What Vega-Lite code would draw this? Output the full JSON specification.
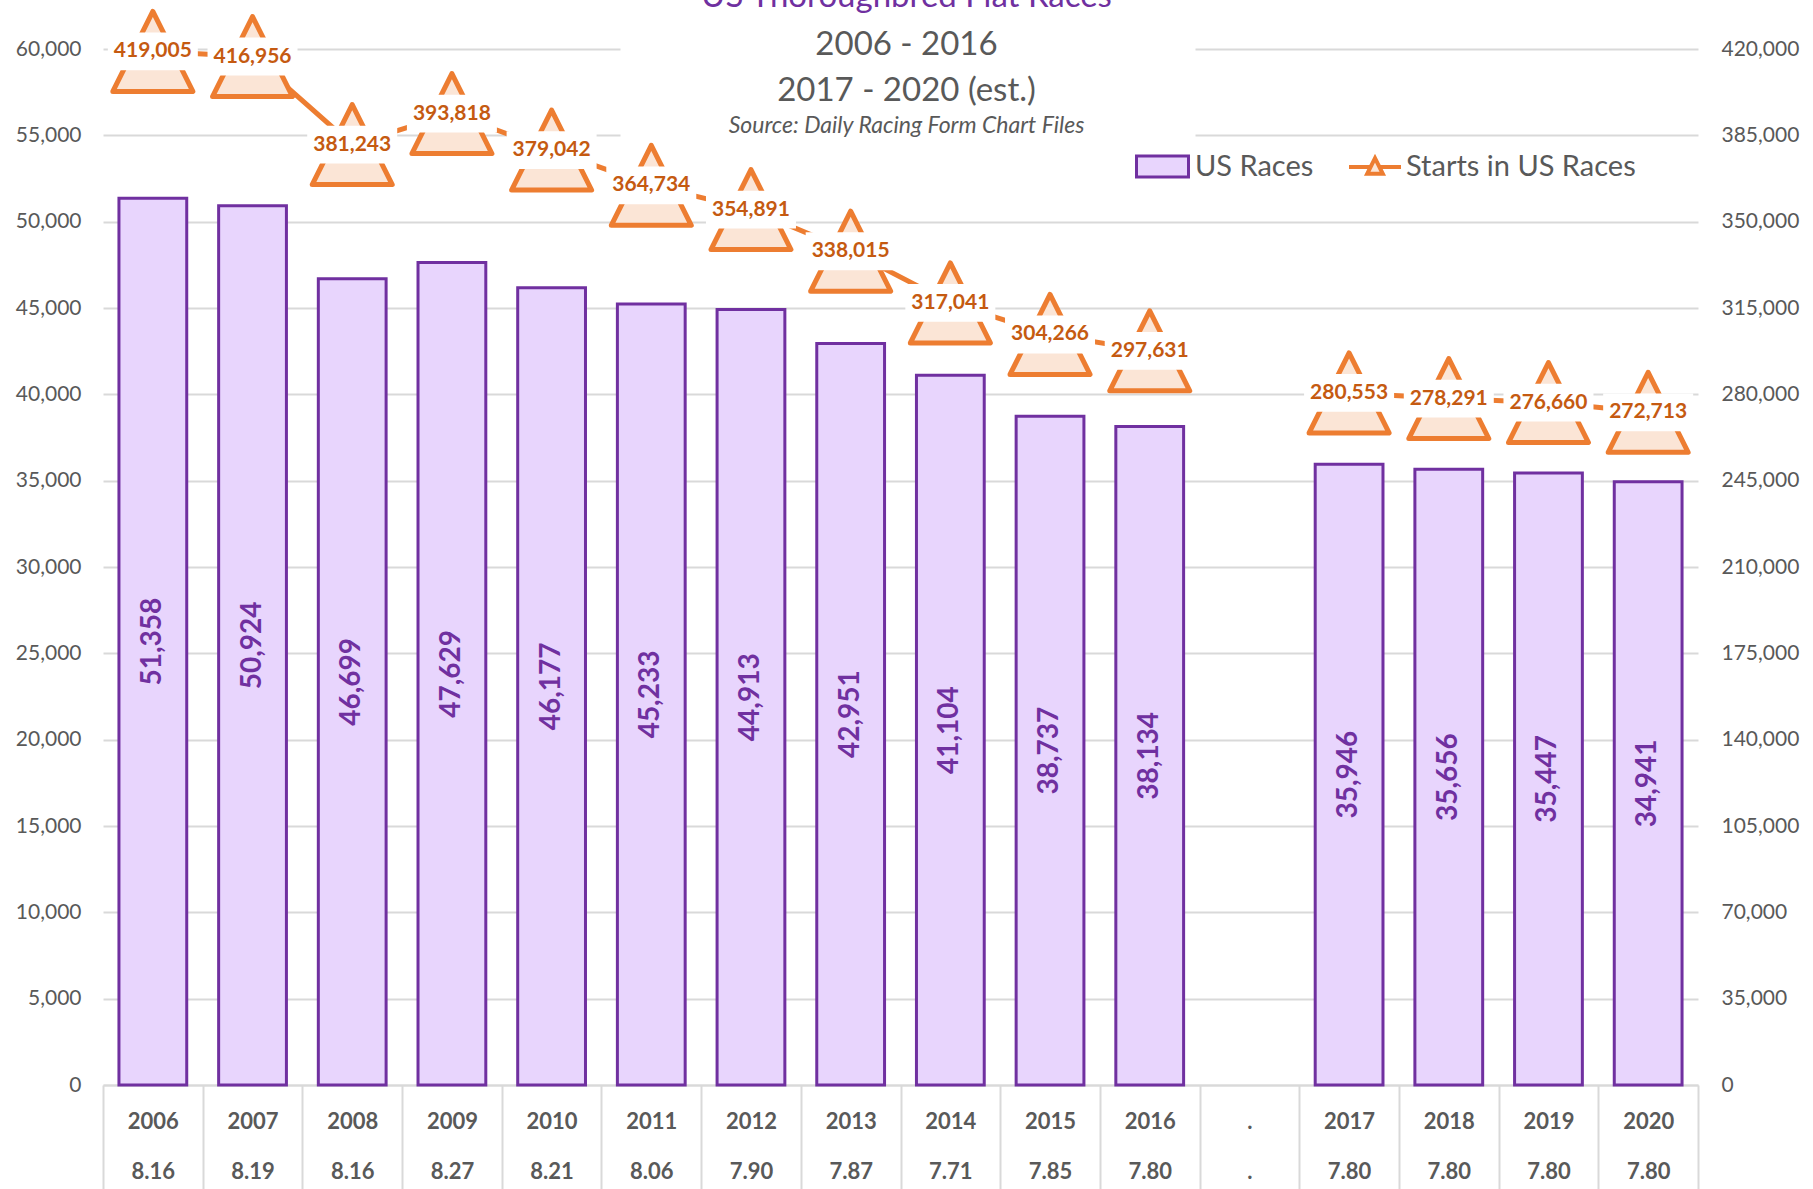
{
  "$schema": "https://vega.github.io/schema/vega-lite/v6.json",
  "autosize": {"type": "none"},
  "width": 1595,
  "height": 1036,
  "padding": {"left": 103, "top": 49, "right": 115, "bottom": 104},
  "background": "white",
  "config": {"view": {"stroke": null}, "font": "Lato"},
  "title": {
    "text": "US Thoroughbred Flat Races",
    "subtitle": ["2006 - 2016", "2017 - 2020 (est.)"],
    "anchor": "middle",
    "color": "#7030A0",
    "font": "Lato",
    "fontSize": 33,
    "fontWeight": "normal",
    "subtitleColor": "#595959",
    "subtitleFont": "Lato",
    "subtitleFontSize": 33,
    "subtitleLineHeight": 46,
    "subtitlePadding": 15,
    "offset": -99,
    "dx": 6
  },
  "data": {"values": [
    {"cat": "2006|8.16", "period": "2006-2016", "series": "US Races", "value": 51358},
    {"cat": "2007|8.19", "period": "2006-2016", "series": "US Races", "value": 50924},
    {"cat": "2008|8.16", "period": "2006-2016", "series": "US Races", "value": 46699},
    {"cat": "2009|8.27", "period": "2006-2016", "series": "US Races", "value": 47629},
    {"cat": "2010|8.21", "period": "2006-2016", "series": "US Races", "value": 46177},
    {"cat": "2011|8.06", "period": "2006-2016", "series": "US Races", "value": 45233},
    {"cat": "2012|7.90", "period": "2006-2016", "series": "US Races", "value": 44913},
    {"cat": "2013|7.87", "period": "2006-2016", "series": "US Races", "value": 42951},
    {"cat": "2014|7.71", "period": "2006-2016", "series": "US Races", "value": 41104},
    {"cat": "2015|7.85", "period": "2006-2016", "series": "US Races", "value": 38737},
    {"cat": "2016|7.80", "period": "2006-2016", "series": "US Races", "value": 38134},
    {"cat": "2017|7.80", "period": "2017-2020", "series": "US Races", "value": 35946},
    {"cat": "2018|7.80", "period": "2017-2020", "series": "US Races", "value": 35656},
    {"cat": "2019|7.80", "period": "2017-2020", "series": "US Races", "value": 35447},
    {"cat": "2020|7.80", "period": "2017-2020", "series": "US Races", "value": 34941},
    {"cat": "2006|8.16", "period": "2006-2016", "series": "Starts in US Races", "value": 419005},
    {"cat": "2007|8.19", "period": "2006-2016", "series": "Starts in US Races", "value": 416956},
    {"cat": "2008|8.16", "period": "2006-2016", "series": "Starts in US Races", "value": 381243},
    {"cat": "2009|8.27", "period": "2006-2016", "series": "Starts in US Races", "value": 393818},
    {"cat": "2010|8.21", "period": "2006-2016", "series": "Starts in US Races", "value": 379042},
    {"cat": "2011|8.06", "period": "2006-2016", "series": "Starts in US Races", "value": 364734},
    {"cat": "2012|7.90", "period": "2006-2016", "series": "Starts in US Races", "value": 354891},
    {"cat": "2013|7.87", "period": "2006-2016", "series": "Starts in US Races", "value": 338015},
    {"cat": "2014|7.71", "period": "2006-2016", "series": "Starts in US Races", "value": 317041},
    {"cat": "2015|7.85", "period": "2006-2016", "series": "Starts in US Races", "value": 304266},
    {"cat": "2016|7.80", "period": "2006-2016", "series": "Starts in US Races", "value": 297631},
    {"cat": "2017|7.80", "period": "2017-2020", "series": "Starts in US Races", "value": 280553},
    {"cat": "2018|7.80", "period": "2017-2020", "series": "Starts in US Races", "value": 278291},
    {"cat": "2019|7.80", "period": "2017-2020", "series": "Starts in US Races", "value": 276660},
    {"cat": "2020|7.80", "period": "2017-2020", "series": "Starts in US Races", "value": 272713}
  ]},
  "resolve": {"scale": {"y": "independent"}, "axis": {"x": "independent", "y": "independent"}},
  "layer": [
    {
      "transform": [{"filter": "datum.series === 'US Races'"}],
      "mark": {"type": "bar", "stroke": "#7030A0", "strokeWidth": 3, "strokeJoin": "miter", "width": {"band": 0.68}},
      "encoding": {
        "x": {
          "field": "cat", "type": "nominal", "sort": null,
          "scale": {"domain": ["2006|8.16","2007|8.19","2008|8.16","2009|8.27","2010|8.21","2011|8.06","2012|7.90","2013|7.87","2014|7.71","2015|7.85","2016|7.80",".|.","2017|7.80","2018|7.80","2019|7.80","2020|7.80"], "paddingInner": 0, "paddingOuter": 0},
          "axis": {
            "orient": "bottom", "title": null, "grid": false,
            "domain": true, "domainColor": "#D9D9D9", "domainWidth": 2,
            "ticks": true, "tickBand": "extent", "tickSize": 105, "tickColor": "#D9D9D9", "tickWidth": 2,
            "labelExpr": "datum.value ? split(datum.value, '|') : ''",
            "labelAngle": 0, "labelFont": "Lato", "labelFontWeight": "bold", "labelFontSize": 22,
            "labelColor": "#595959", "labelLineHeight": 50, "labelBaseline": "middle", "labelPadding": -69
          }
        },
        "y": {
          "field": "value", "type": "quantitative",
          "scale": {"domain": [0, 60000], "nice": false, "zero": true},
          "axis": {
            "orient": "left", "title": null, "domain": false, "ticks": false,
            "values": [0,5000,10000,15000,20000,25000,30000,35000,40000,45000,50000,55000,60000],
            "format": ",.0f", "labelFont": "Lato", "labelFontSize": 21, "labelColor": "#595959", "labelPadding": 22,
            "grid": true, "gridColor": "#D9D9D9", "gridWidth": 2,
            "gridDash": {"condition": {"test": "datum.value >= 55000", "value": [517, 575, 2000]}, "value": []}
          }
        },
        "fill": {
          "field": "series", "type": "nominal",
          "scale": {"domain": ["US Races"], "range": ["#E8D5FD"]},
          "legend": {
            "title": null, "orient": "none", "direction": "horizontal",
            "legendX": 1032, "legendY": 90,
            "symbolType": "M-1,-0.4L1,-0.4L1,0.4L-1,0.4Z",
            "symbolSize": 2704, "symbolStrokeColor": "#7030A0", "symbolStrokeWidth": 3, "symbolOpacity": 1,
            "labelFont": "Lato", "labelFontSize": 29, "labelColor": "#595959",
            "labelOffset": 5, "labelLimit": 500
          }
        }
      }
    },
    {
      "transform": [{"filter": "datum.series === 'US Races'"}],
      "mark": {"type": "text", "angle": 270, "align": "center", "baseline": "middle", "font": "Lato", "fontWeight": "bold", "fontSize": 28, "color": "#7030A0"},
      "encoding": {
        "x": {
          "field": "cat", "type": "nominal", "sort": null,
          "scale": {"domain": ["2006|8.16","2007|8.19","2008|8.16","2009|8.27","2010|8.21","2011|8.06","2012|7.90","2013|7.87","2014|7.71","2015|7.85","2016|7.80",".|.","2017|7.80","2018|7.80","2019|7.80","2020|7.80"], "paddingInner": 0, "paddingOuter": 0},
          "axis": {
            "orient": "top", "title": "Source: Daily Racing Form Chart Files",
            "labels": false, "ticks": false, "domain": false, "grid": false,
            "titleFont": "Lato", "titleFontStyle": "italic", "titleFontWeight": "normal", "titleFontSize": 23,
            "titleColor": "#595959", "titleY": 76, "titleX": 803, "titleBaseline": "middle", "titleAlign": "center"
          }
        },
        "y": {"field": "value", "type": "quantitative", "scale": {"domain": [0, 120000], "nice": false}, "axis": null},
        "text": {"field": "value", "type": "quantitative", "format": ",.0f"}
      }
    },
    {
      "transform": [{"filter": "datum.series === 'Starts in US Races'"}],
      "encoding": {
        "x": {
          "field": "cat", "type": "nominal", "sort": null,
          "scale": {"domain": ["2006|8.16","2007|8.19","2008|8.16","2009|8.27","2010|8.21","2011|8.06","2012|7.90","2013|7.87","2014|7.71","2015|7.85","2016|7.80",".|.","2017|7.80","2018|7.80","2019|7.80","2020|7.80"], "paddingInner": 0, "paddingOuter": 0},
          "axis": null
        },
        "y": {
          "field": "value", "type": "quantitative",
          "scale": {"domain": [0, 420000], "nice": false, "zero": true},
          "axis": {
            "orient": "right", "title": null, "domain": false, "ticks": false, "grid": false,
            "values": [0,35000,70000,105000,140000,175000,210000,245000,280000,315000,350000,385000,420000],
            "format": ",.0f", "labelFont": "Lato", "labelFontSize": 21, "labelColor": "#595959", "labelPadding": 23
          }
        }
      },
      "layer": [
        {
          "mark": {"type": "line", "strokeWidth": 5},
          "encoding": {
            "detail": {"field": "period", "type": "nominal"},
            "stroke": {
              "field": "series", "type": "nominal",
              "scale": {"domain": ["Starts in US Races"], "range": ["#ED7D31"]},
              "legend": {
                "title": null, "orient": "none", "direction": "horizontal",
                "legendX": 1244, "legendY": 90,
                "symbolType": "M-1,0L-0.17,0M0.17,0L1,0M0,-0.34L0.3,0.26L-0.3,0.26Z",
                "symbolSize": 2704, "symbolStrokeColor": "#ED7D31", "symbolFillColor": "#FBE5D6", "symbolStrokeWidth": 4, "symbolOpacity": 1,
                "labelFont": "Lato", "labelFontSize": 29, "labelColor": "#595959",
                "labelOffset": 3, "labelLimit": 500
              }
            }
          }
        },
        {
          "mark": {"type": "point", "shape": "M0,-1L1,1L-1,1Z", "size": 6400, "filled": true, "opacity": 1, "fill": "#FBE5D6", "stroke": "#ED7D31", "strokeWidth": 5, "strokeJoin": "round"},
          "encoding": {}
        },
        {
          "mark": {"type": "point", "shape": "M-1,-0.42L1,-0.42L1,0.42L-1,0.42Z", "size": 8100, "filled": true, "opacity": 1, "fill": "white", "strokeWidth": 0},
          "encoding": {}
        },
        {
          "mark": {"type": "text", "align": "center", "baseline": "middle", "font": "Lato", "fontWeight": "bold", "fontSize": 21, "color": "#C55A11"},
          "encoding": {"text": {"field": "value", "type": "quantitative", "format": ",.0f"}}
        }
      ]
    }
  ]
}
